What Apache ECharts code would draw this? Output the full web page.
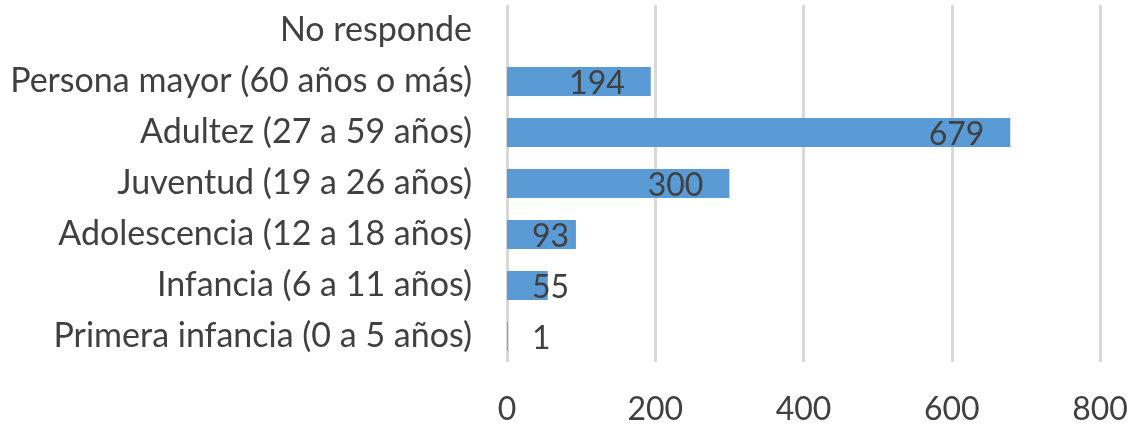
<!DOCTYPE html>
<html>
<head>
<meta charset="utf-8">
<script src="https://cdn.jsdelivr.net/npm/echarts@6/dist/echarts.min.js"></script>
<style>
  html, body { margin: 0; padding: 0; background: #fff; }
  #chart { width: 1131px; height: 429px; }
</style>
</head>
<body>
<div id="chart"></div>
<script>
// categories bottom to top, as on the category axis
const categories = [
  "Primera infancia (0 a 5 años)",
  "Infancia (6 a 11 años)",
  "Adolescencia (12 a 18 años)",
  "Juventud (19 a 26 años)",
  "Adultez (27 a 59 años)",
  "Persona mayor (60 años o más)",
  "No responde"
];
const values = [1, 55, 93, 300, 679, 194, null];
const xTicks = [0, 200, 400, 600, 800];

const FONT = "Lato";
const TEXT = "#404040";

var myChart = echarts.init(document.getElementById("chart"));

// short bars: label sits near the bar start, as in the spreadsheet
const barData = values.map(function (v) {
  if (v === null) return "-";
  if (v < 120) {
    return { value: v, label: { position: "insideLeft", distance: 25 } };
  }
  return v;
});

var option = {
  backgroundColor: "#fff",
  animation: false,
  grid: {
    left: 507,
    right: 31,
    top: 5,
    bottom: 67
  },
  xAxis: {
    type: "value",
    min: xTicks[0],
    max: xTicks[xTicks.length - 1],
    interval: 200,
    axisLine: { show: false },
    axisTick: { show: false },
    splitLine: {
      show: true,
      lineStyle: { color: "#D9D9D9", width: 3 }
    },
    axisLabel: {
      color: TEXT,
      fontFamily: FONT,
      fontSize: 32,
      margin: 32
    }
  },
  yAxis: {
    type: "category",
    data: categories,
    axisLine: { show: false },
    axisTick: { show: false },
    axisLabel: {
      color: TEXT,
      fontFamily: FONT,
      fontSize: 34,
      margin: 35
    }
  },
  series: [
    {
      type: "bar",
      data: barData,
      barWidth: "57%",
      itemStyle: { color: "#5B9BD5" },
      label: {
        show: true,
        position: "insideRight",
        distance: 26,
        color: TEXT,
        fontFamily: FONT,
        fontSize: 32,
        offset: [0, 2]
      }
    }
  ]
};

option && myChart.setOption(option);
</script>
</body>
</html>
